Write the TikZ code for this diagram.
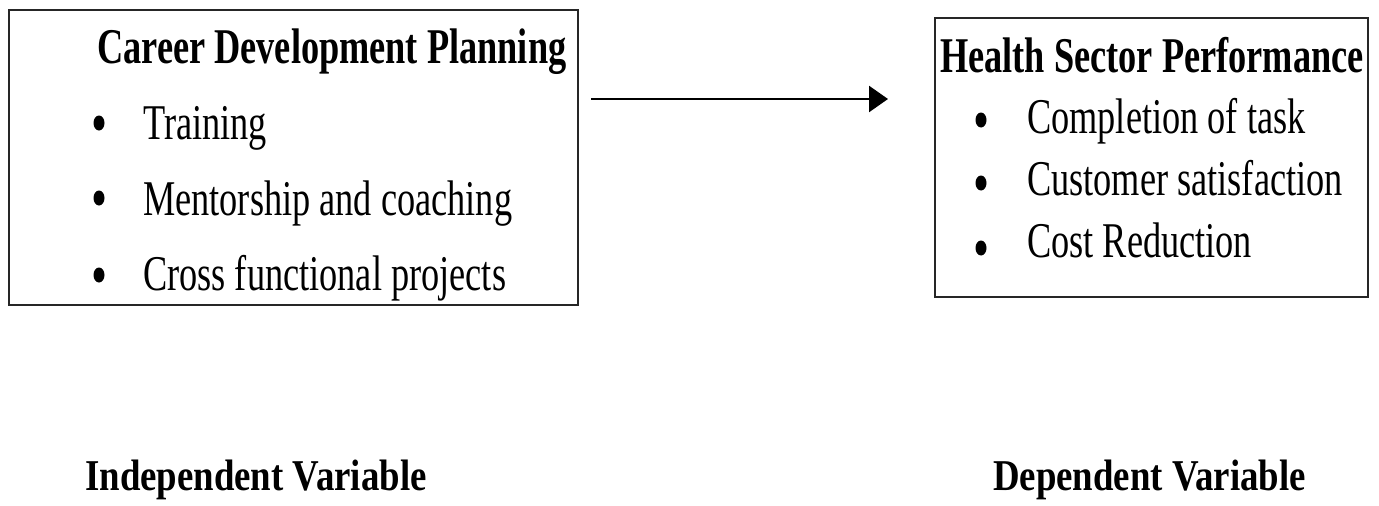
\documentclass[tikz,border=0pt]{standalone}
\usepackage{fontspec}
\setmainfont{Liberation Serif}[FakeStretch=0.726]
\newfontfamily\labfont{Liberation Serif}[FakeStretch=0.837]
\usetikzlibrary{arrows.meta}
\begin{document}
\begin{tikzpicture}[x=1pt,y=-1pt,
  boxframe/.style={draw=black!85,line width=2pt},
  txt/.style={inner sep=0pt,anchor=base west,font=\fontsize{50}{60}\selectfont},
  ttl/.style={inner sep=0pt,anchor=base west,font=\fontsize{50}{60}\selectfont\bfseries},
  lab/.style={inner sep=0pt,anchor=base west,font=\labfont\fontsize{44}{52}\selectfont\bfseries},
  conn/.style={line width=2.6pt,-{Triangle[length=19pt,width=26pt]}}]
\useasboundingbox (0,0) rectangle (1379,506);
\tikzset{bul/.style={fill=black}}
% boxes
\draw[boxframe] (9,10) rectangle (578,305);
\draw[boxframe] (935,18) rectangle (1368,297);
% left box text
\node[ttl] (lt) at (97,63) {Career Development Planning};
\fill[bul] (99,123) ellipse[x radius=5.5, y radius=7.5];
\node[txt] (l1) at (143,139) {Training};
\fill[bul] (99,198) ellipse[x radius=5.5, y radius=7.5];
\node[txt] (l2) at (143,215) {Mentorship and coaching};
\fill[bul] (99,275) ellipse[x radius=5.5, y radius=7.5];
\node[txt] (l3) at (143,290) {Cross functional projects};
% right box text
\node[ttl] (rt) at (940,72) {Health Sector Performance};
\fill[bul] (981,120) ellipse[x radius=5.5, y radius=7.5];
\node[txt] (r1) at (1027,133) {Completion of task};
\fill[bul] (981,183) ellipse[x radius=5.5, y radius=7.5];
\node[txt] (r2) at (1027,195) {Customer satisfaction};
\fill[bul] (981,248) ellipse[x radius=5.5, y radius=7.5];
\node[txt] (r3) at (1027,257) {Cost Reduction};
% arrow
\coordinate (a) at (591,99);
\coordinate (b) at (888,99);
\draw[conn] (a) -- (b);
% labels
\node[lab] (iv) at (85,490) {Independent Variable};
\node[lab] (dv) at (993,490) {Dependent Variable};
\end{tikzpicture}
\end{document}
